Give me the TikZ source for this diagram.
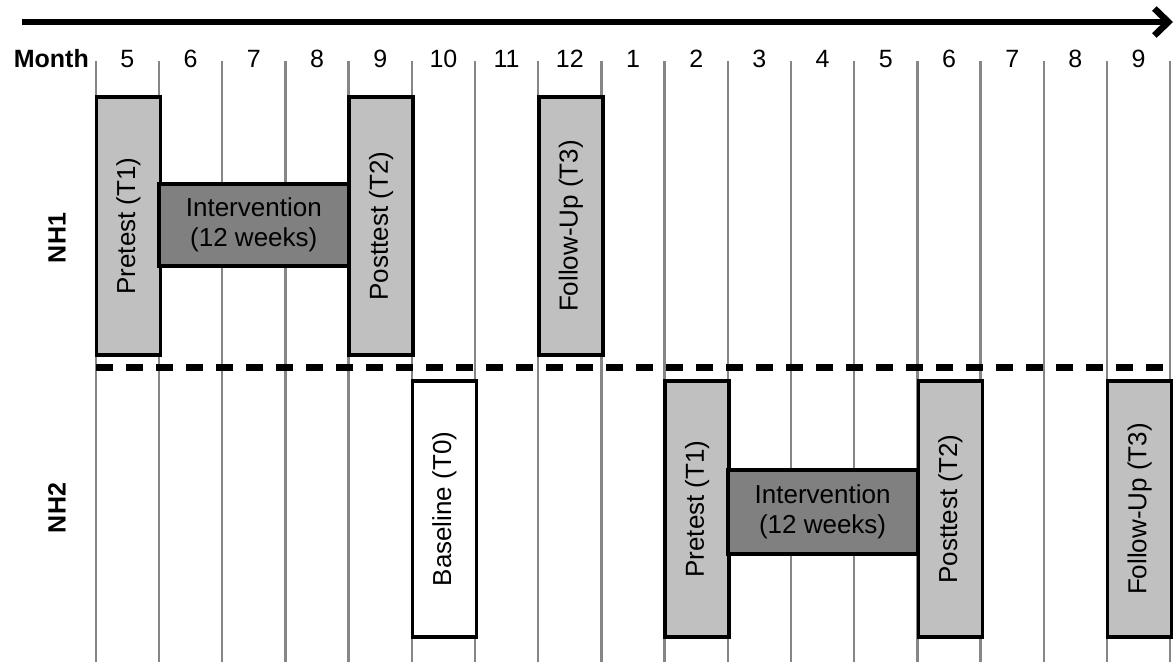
\documentclass[tikz,border=0pt]{standalone}
\usepackage{fontspec}
\setmainfont{Liberation Sans}
\usetikzlibrary{arrows.meta}
\definecolor{boxgray}{HTML}{C0C0C0}
\definecolor{intgray}{HTML}{808080}
\definecolor{gridgray}{HTML}{868686}
\tikzset{
  gridline/.style={draw=gridgray, line width=2.5},
  monthlbl/.style={anchor=base, inner sep=0, font=\fontsize{25}{30}\selectfont},
  grouplbl/.style={rotate=90, inner sep=0, font=\fontsize{25}{30}\selectfont\bfseries},
  phasebox/.style={draw=black, line width=3.5, fill=boxgray, rotate=90,
    inner sep=0, outer sep=0, minimum height=64,
    font=\fontsize{26}{30}\selectfont},
  intbox/.style={draw=black, line width=3.5, fill=intgray, inner sep=0,
    outer sep=0, minimum width=189.6, align=center,
    font=\fontsize{26}{30}\selectfont},
  divider/.style={line width=6.5, dash pattern=on 17 off 13},
  timeline/.style={line width=6.5, -{Straight Barb[length=14,width=27]}}
}
\begin{document}
\begin{tikzpicture}[x=1pt,y=-1pt]
\useasboundingbox (0,0) rectangle (1176,662);

% month columns: vertical grid lines
\foreach \i in {0,...,17}{
  \coordinate (gt\i) at ({95.8+63.2*\i},61);
  \coordinate (gb\i) at ({95.8+63.2*\i},662);
  \draw[gridline] (gt\i) -- (gb\i);
}

% month labels
\node[monthlbl, anchor=base east, font=\fontsize{25}{30}\selectfont\bfseries] (mlabel) at (89,67) {Month};
\foreach \m [count=\k from 0] in {5,6,7,8,9,10,11,12,1,2,3,4,5,6,7,8,9}{
  \node[monthlbl] (m\k) at ({127.4+63.2*\k},67) {\m};
}

% time arrow
\coordinate (tstart) at (22,22);
\coordinate (tend) at (1173,22);
\draw[timeline] (tstart) -- (tend);

% separator between the two homes
\coordinate (dl) at (96,367.5);
\coordinate (dr) at (1170,367.5);
\draw[divider] (dl) -- (dr);

% group labels
\node[grouplbl] (nh1) at (57,238) {NH1};
\node[grouplbl] (nh2) at (57,508) {NH2};

% NH1 schedule
\node[phasebox, minimum width=258] (pre1) at (128.4,226) {Pretest (T1)};
\node[phasebox, minimum width=258] (post1) at (381.2,226) {Posttest (T2)};
\node[phasebox, minimum width=258] (fu1) at (570.8,226) {Follow-Up (T3)};
\node[intbox, minimum height=82] (int1) at (253.8,225) {Intervention\\(12 weeks)};

% NH2 schedule
\node[phasebox, fill=white, minimum width=256] (base2) at (444.4,509) {Baseline (T0)};
\node[phasebox, minimum width=256] (pre2) at (697.2,509) {Pretest (T1)};
\node[phasebox, minimum width=256] (post2) at (950.5,509) {Posttest (T2)};
\node[phasebox, minimum width=256] (fu2) at (1139.6,509) {Follow-Up (T3)};
\node[intbox, minimum height=84] (int2) at (822.6,512) {Intervention\\(12 weeks)};
\end{tikzpicture}
\end{document}
